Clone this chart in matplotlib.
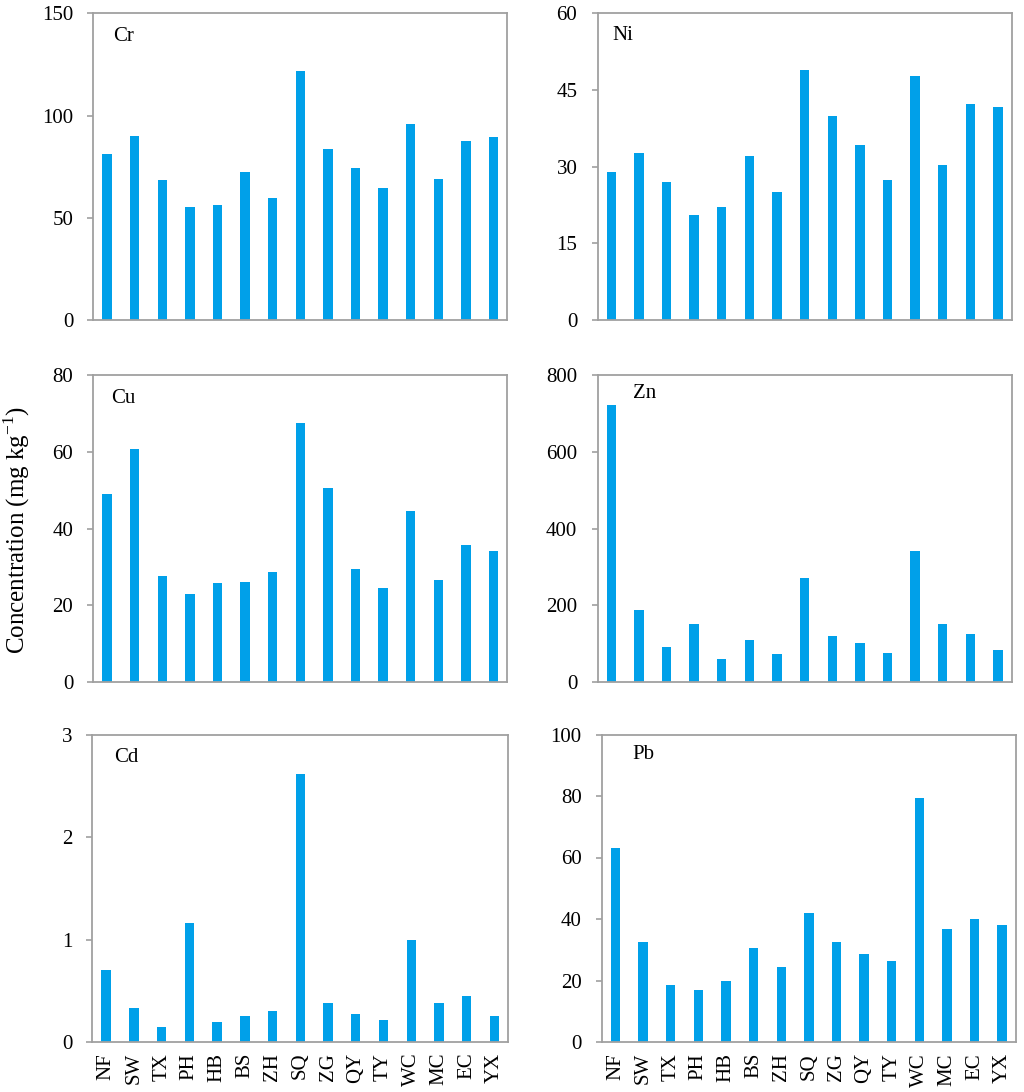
import matplotlib
matplotlib.use("Agg")
import matplotlib.pyplot as plt
import numpy as np

sites = ["NF", "SW", "TX", "PH", "HB", "BS", "ZH", "SQ", "ZG", "QY", "TY", "WC", "MC", "EC", "YX"]

cr = [81.1, 90.2, 68.5, 55.1, 56.4, 72.2, 59.8, 121.8, 83.4, 74.5, 64.4, 96.1, 69.1, 87.6, 89.6]
ni = [29.0, 32.6, 27.0, 20.6, 22.1, 32.1, 25.1, 49.0, 40.0, 34.3, 27.3, 47.8, 30.4, 42.3, 41.6]
cu = [49.1, 60.8, 27.8, 23.0, 25.8, 26.1, 28.6, 67.5, 50.7, 29.5, 24.5, 44.7, 26.7, 35.8, 34.3]
zn = [721, 187, 92, 151, 60, 111, 73, 272, 120, 103, 77, 341, 151, 126, 84]
cd = [0.70, 0.33, 0.14, 1.16, 0.19, 0.25, 0.30, 2.62, 0.38, 0.27, 0.21, 1.00, 0.38, 0.45, 0.25]
pb = [63.2, 32.5, 18.4, 17.0, 19.9, 30.7, 24.3, 41.8, 32.4, 28.7, 26.2, 79.3, 36.7, 40.0, 37.9]

elements = ["Cr", "Ni", "Cu", "Zn", "Cd", "Pb"]
series = [cr, ni, cu, zn, cd, pb]
ymax = [150, 60, 80, 800, 3, 100]
ystep = [50, 15, 20, 200, 1, 20]

plt.rcParams["font.family"] = ["Liberation Serif", "DejaVu Serif"]
plt.rcParams["mathtext.fontset"] = "custom"
plt.rcParams["mathtext.rm"] = "Liberation Serif"

W, H = 1024, 1092
fig = plt.figure(figsize=(W / 100, H / 100), dpi=100)

# axes boxes in pixels: left, top, right, bottom
boxes = [
    (93.3, 13.3, 507.3, 320.0),
    (597.5, 13.3, 1011.7, 320.0),
    (93.3, 375.0, 507.3, 682.3),
    (597.5, 375.0, 1011.7, 682.3),
    (92.3, 735.3, 508.3, 1041.7),
    (601.7, 734.5, 1016.0, 1042.0),
]
label_pos = [(0.047, 0.955), (0.037, 0.96), (0.042, 0.955), (0.085, 0.972), (0.052, 0.96), (0.074, 0.965)]

bar_color = "#00A0E9"
spine_color = "#A0A0A0"
x = np.arange(len(sites))

for i, (el, vals) in enumerate(zip(elements, series)):
    l, t, r, b = boxes[i]
    ax = fig.add_axes([l / W, 1 - b / H, (r - l) / W, (b - t) / H])
    ax.bar(x, vals, width=0.34, color=bar_color, edgecolor="none")
    ax.set_xlim(-0.5, len(sites) - 0.5)
    ax.set_ylim(0, ymax[i])
    ax.set_yticks(np.arange(0, ymax[i] + ystep[i] * 0.01, ystep[i]))
    ax.set_yticklabels([f"{v:g}" for v in np.arange(0, ymax[i] + ystep[i] * 0.01, ystep[i])])
    for s in ax.spines.values():
        s.set_color(spine_color)
        s.set_linewidth(1.3)
    ax.tick_params(axis="y", direction="out", length=4, width=1.2, color=spine_color,
                   labelsize=15, pad=10.5)
    if i >= 4:
        ax.set_xticks(x)
        ax.set_xticklabels(sites, rotation=90, fontsize=15)
        ax.tick_params(axis="x", length=0, pad=8)
    else:
        ax.set_xticks([])
    lx, ly = label_pos[i]
    ax.text(lx, ly, el, transform=ax.transAxes, fontsize=15, ha="left", va="top")

fig.text(17 / W, 1 - 530 / H, r"Concentration (mg kg$^{\mathregular{-1}}$)", rotation=90,
         fontsize=18, ha="center", va="center")

fig.savefig("out.png", dpi=100)
